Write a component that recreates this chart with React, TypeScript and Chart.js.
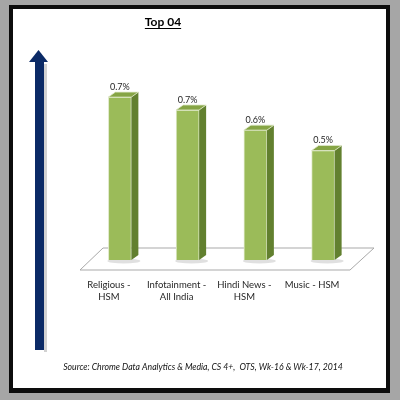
import React, { useEffect, useRef } from "react";
import { Chart, registerables } from "chart.js";

Chart.register(...registerables);

const categories: string[][] = [
  ["Religious -", "HSM"],
  ["Infotainment -", "All India"],
  ["Hindi News -", "HSM"],
  ["Music - HSM"],
];
const shares: number[] = [0.72, 0.663, 0.574, 0.484];
const titleText = "Top 04";
const sourceText = "Source: Chrome Data Analytics & Media, CS 4+,  OTS, Wk-16 & Wk-17, 2014";

const FONT = "Lato, 'Open Sans', 'DejaVu Sans', sans-serif";

const decor = {
  id: "decor",
  beforeDraw(chart: any) {
    const ctx = chart.ctx as CanvasRenderingContext2D;
    ctx.save();
    ctx.fillStyle = "#a6a6a6";
    ctx.fillRect(0, 0, 400, 400);
    ctx.fillStyle = "#0d0d0d";
    ctx.fillRect(9, 5, 381, 388);
    ctx.fillStyle = "#ffffff";
    ctx.fillRect(13, 9, 373, 379);

    // title
    ctx.fillStyle = "#000000";
    ctx.font = `bold 12px ${FONT}`;
    ctx.textAlign = "center";
    ctx.textBaseline = "alphabetic";
    ctx.fillText(titleText, 163, 26);
    const tw = ctx.measureText(titleText).width;
    ctx.fillRect(163 - tw / 2, 28, tw, 1);

    // arrow shadow
    ctx.fillStyle = "rgba(0,0,0,0.18)";
    ctx.fillRect(44, 64, 3, 288);
    // arrow
    ctx.fillStyle = "#0b2a66";
    ctx.fillRect(35, 61, 9, 289);
    ctx.beginPath();
    ctx.moveTo(29, 62);
    ctx.lineTo(38.5, 50);
    ctx.lineTo(48, 62);
    ctx.closePath();
    ctx.fill();

    // source
    ctx.fillStyle = "#111111";
    ctx.font = `italic 8.7px ${FONT}`;
    ctx.textAlign = "center";
    ctx.textBaseline = "middle";
    ctx.fillText(sourceText, 203, 367);
    ctx.restore();
  },
  beforeDatasetsDraw(chart: any) {
    const ctx = chart.ctx as CanvasRenderingContext2D;
    const area = chart.chartArea;
    const yb = chart.scales.y.getPixelForValue(0);
    ctx.save();
    ctx.beginPath();
    ctx.moveTo(area.left - 6, yb + 10);
    ctx.lineTo(area.left + 17, yb - 12);
    ctx.lineTo(area.right + 17, yb - 12);
    ctx.lineTo(area.right - 7, yb + 10);
    ctx.closePath();
    ctx.fillStyle = "#ffffff";
    ctx.fill();
    ctx.strokeStyle = "#a9a9a9";
    ctx.lineWidth = 1;
    ctx.stroke();
    // base shadows
    const meta = chart.getDatasetMeta(0);
    meta.data.forEach((el: any) => {
      const p = el.getProps(["x", "width"], true);
      ctx.fillStyle = "rgba(0,0,0,0.12)";
      ctx.beginPath();
      ctx.ellipse(p.x + 4, yb + 1, p.width / 2 + 5, 2.5, 0, 0, Math.PI * 2);
      ctx.fill();
    });
    ctx.restore();
  },
  afterDatasetsDraw(chart: any) {
    const ctx = chart.ctx as CanvasRenderingContext2D;
    const meta = chart.getDatasetMeta(0);
    const d = 7;
    const dy = 5;
    ctx.save();
    meta.data.forEach((el: any, i: number) => {
      const p = el.getProps(["x", "y", "base", "width"], true);
      const l = p.x - p.width / 2;
      const r = p.x + p.width / 2;
      const top = p.y;
      const base = p.base;
      // side
      ctx.fillStyle = "#62802f";
      ctx.beginPath();
      ctx.moveTo(r, top);
      ctx.lineTo(r + d, top - dy);
      ctx.lineTo(r + d, base - dy);
      ctx.lineTo(r, base);
      ctx.closePath();
      ctx.fill();
      // top
      ctx.fillStyle = "#86a545";
      ctx.beginPath();
      ctx.moveTo(l, top);
      ctx.lineTo(l + d, top - dy);
      ctx.lineTo(r + d, top - dy);
      ctx.lineTo(r, top);
      ctx.closePath();
      ctx.fill();
      ctx.strokeStyle = "#dfe9c9";
      ctx.lineWidth = 0.8;
      ctx.stroke();
      // value label
      ctx.fillStyle = "#262626";
      ctx.font = `9px ${FONT}`;
      ctx.textAlign = "center";
      ctx.textBaseline = "middle";
      ctx.fillText(shares[i].toFixed(1) + "%", p.x, top - 10);
      // category labels
      ctx.fillStyle = "#262626";
      ctx.font = `9.5px ${FONT}`;
      categories[i].forEach((line, k) => {
        ctx.fillText(line, p.x - 11, base + 25 + k * 12);
      });
    });
    ctx.restore();
  },
};

export default function App() {
  const ref = useRef<HTMLCanvasElement | null>(null);
  useEffect(() => {
    if (!ref.current) return;
    const chart = new Chart(ref.current, {
      type: "bar",
      data: {
        labels: categories.map((c) => c.join(" ")),
        datasets: [
          {
            data: shares,
            backgroundColor: "#9bbb59",
            borderColor: "#dfe9c9",
            borderWidth: 1,
            barThickness: 23,
          },
        ],
      },
      options: {
        animation: false,
        responsive: false,
        devicePixelRatio: 1,
        layout: { padding: { left: 86, right: 43, top: 79, bottom: 140 } },
        plugins: { legend: { display: false }, tooltip: { enabled: false }, title: { display: false } },
        scales: {
          x: { display: false },
          y: { display: false, min: 0, max: 0.8 },
        },
      },
      plugins: [decor],
    });
    return () => chart.destroy();
  }, []);
  return (
    <div style={{ position: "fixed", left: 0, top: 0, width: 400, height: 400 }}>
      <canvas ref={ref} width={400} height={400} style={{ width: 400, height: 400, display: "block" }} />
    </div>
  );
}
